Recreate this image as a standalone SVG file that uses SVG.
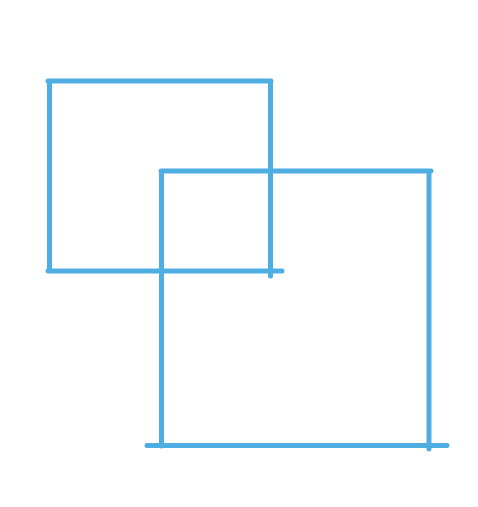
<svg xmlns="http://www.w3.org/2000/svg" width="478" height="507" viewBox="0 0 478 507">
<style>
.ln{fill:none;stroke:#4faee1;stroke-width:5;stroke-linecap:round;stroke-linejoin:round}
</style>
<rect width="478" height="507" fill="#ffffff"/>
<g id="square-1">
<path class="ln" d="M48,81 H271 M49.5,81 V271 M48,271 H282 M270.5,81 V276"/>
</g>
<g id="square-2">
<path class="ln" d="M161,171 H431 M161.5,171 V446 M147,445.5 H447 M429,171 V449"/>
<path class="ln" d="M160.5,366 V396" style="stroke-width:3"/>
</g>
<g id="connectors"></g>
</svg>
